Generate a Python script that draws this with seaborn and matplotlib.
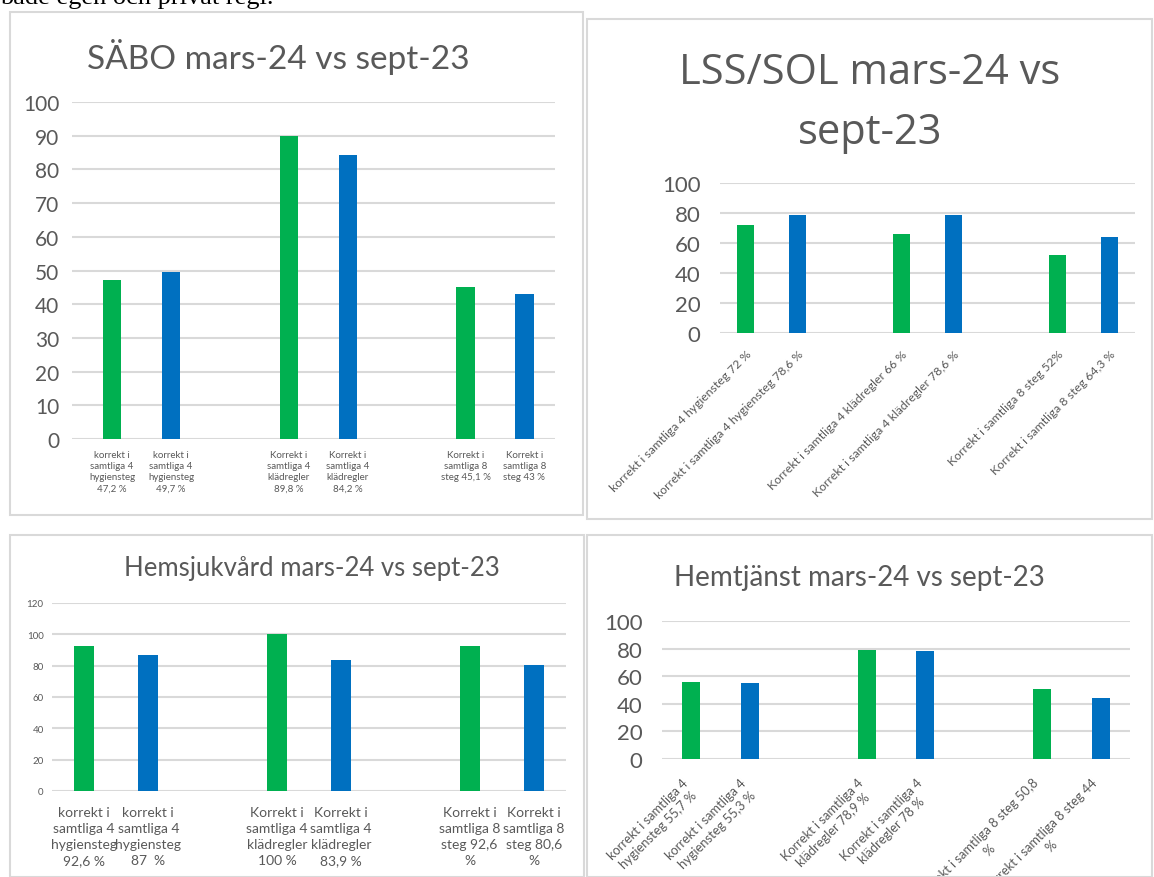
import matplotlib
matplotlib.use("Agg")
import matplotlib.pyplot as plt
from matplotlib.patches import Rectangle
import seaborn as sns

# --- data -------------------------------------------------------------
series = ["mars-24", "sept-23", "mars-24", "sept-23", "mars-24", "sept-23"]
slots = [0, 1, 3, 4, 6, 7]          # empty slot between each pair

sabo_vals = [47.2, 49.7, 89.8, 84.2, 45.1, 43]
sabo_labels = ["korrekt i\nsamtliga 4\nhygiensteg\n47,2 %",
               "korrekt i\nsamtliga 4\nhygiensteg\n49,7 %",
               "Korrekt i\nsamtliga 4\nklädregler\n89,8 %",
               "Korrekt i\nsamtliga 4\nklädregler\n84,2 %",
               "Korrekt i\nsamtliga 8\nsteg 45,1 %",
               "Korrekt i\nsamtliga 8\nsteg 43 %"]

lss_vals = [72, 78.6, 66, 78.6, 52, 64.3]
lss_labels = ["korrekt i samtliga 4 hygiensteg 72 %",
              "korrekt i samtliga 4 hygiensteg 78,6 %",
              "Korrekt i samtliga 4 klädregler 66 %",
              "Korrekt i samtliga 4 klädregler 78,6 %",
              "Korrekt i samtliga 8 steg 52%",
              "Korrekt i samtliga 8 steg 64,3 %"]

hsv_vals = [92.6, 87, 100, 83.9, 92.6, 80.6]
hsv_labels = ["korrekt i\nsamtliga 4\nhygiensteg\n92,6 %",
              "korrekt i\nsamtliga 4\nhygiensteg\n87  %",
              "Korrekt i\nsamtliga 4\nklädregler\n100 %",
              "Korrekt i\nsamtliga 4\nklädregler\n83,9 %",
              "Korrekt i\nsamtliga 8\nsteg 92,6\n%",
              "Korrekt i\nsamtliga 8\nsteg 80,6\n%"]

htj_vals = [55.7, 55.3, 78.9, 78, 50.8, 44]
htj_labels = ["korrekt i samtliga 4\nhygiensteg 55,7 %",
              "korrekt i samtliga 4\nhygiensteg 55,3 %",
              "Korrekt i samtliga 4\nklädregler 78,9 %",
              "Korrekt i samtliga 4\nklädregler 78 %",
              "Korrekt i samtliga 8 steg 50,8\n%",
              "Korrekt i samtliga 8 steg 44\n%"]

palette = {"mars-24": "#00B050", "sept-23": "#0070C0"}
GRID = "#D9D9D9"
TXT = "#595959"

sns.set_style("white")
plt.rcParams["font.family"] = ["Lato", "DejaVu Sans"]

W, H = 1154, 878
fig = plt.figure(figsize=(W / 100, H / 100), dpi=100)


def px_axes(x0, x1, ytop, ybot):
    return fig.add_axes([x0 / W, 1 - ybot / H, (x1 - x0) / W, (ybot - ytop) / H])


def frame(x0, y0, x1, y1):
    fig.patches.append(Rectangle((x0 / W, 1 - y1 / H), (x1 - x0) / W, (y1 - y0) / H,
                                 transform=fig.transFigure, fill=False,
                                 edgecolor="#D9D9D9", linewidth=1.5))


def bars(ax, vals, width, ymax, step, ysize, ypad, xlim=(-0.5, 7.5)):
    sns.barplot(x=slots, y=vals, hue=series, palette=palette, dodge=False,
                native_scale=True, width=width, legend=False, ax=ax,
                saturation=1, edgecolor="none")
    ax.set_xlim(*xlim)
    ax.set_ylim(0, ymax)
    ax.set_yticks(range(0, ymax + 1, step))
    ax.grid(axis="y", color=GRID, linewidth=1.5)
    ax.set_axisbelow(True)
    sns.despine(ax=ax, left=True, bottom=True)
    ax.tick_params(axis="y", length=0, labelsize=ysize, labelcolor=TXT, pad=ypad)
    ax.tick_params(axis="x", length=0)
    ax.set_xlabel("")
    ax.set_ylabel("")
    ax.set_xticks(slots)


# page text cut at the top
fig.text(0.0, 1 - 4 / H, "både egen och privat regi.", fontsize=19,
         family=["Liberation Serif"], color="black", va="baseline")

frame(10, 13, 583, 516)
frame(587, 20, 1152, 520)
frame(10, 536, 584, 878)
frame(587, 536, 1152, 878)

# SÄBO
ax1 = px_axes(72, 555, 103, 440)
bars(ax1, sabo_vals, 0.31, 100, 10, 15, 9, xlim=(-0.68, 7.52))
ax1.set_xticklabels(sabo_labels, fontsize=7, color=TXT, linespacing=1.3)
ax1.tick_params(axis="x", pad=8)
fig.text(278 / W, 1 - 57 / H, "SÄBO mars-24 vs sept-23", fontsize=24,
         color=TXT, ha="center", va="center")

# LSS/SOL
ax2 = px_axes(720, 1135, 184, 334)
bars(ax2, lss_vals, 0.33, 100, 20, 16, 14)
ax2.set_xticklabels(lss_labels, fontsize=8.8, color=TXT, rotation=45,
                    ha="right", rotation_mode="anchor")
ax2.tick_params(axis="x", pad=11)
fig.text(870 / W, 1 - 103 / H, "LSS/SOL mars-24 vs\nsept-23", fontsize=30,
         color=TXT, ha="center", va="center", linespacing=1.55,
         family=["Open Sans", "DejaVu Sans"])

# Hemsjukvård
ax3 = px_axes(52, 566, 604, 792)
bars(ax3, hsv_vals, 0.31, 120, 20, 7, 6)
ax3.set_xticklabels(hsv_labels, fontsize=10, color=TXT, linespacing=1.4)
ax3.tick_params(axis="x", pad=11)
fig.text(312 / W, 1 - 569 / H, "Hemsjukvård mars-24 vs sept-23", fontsize=18.5,
         color=TXT, ha="center", va="center")

# Hemtjänst
ax4 = px_axes(662, 1130, 622, 760)
bars(ax4, htj_vals, 0.31, 100, 20, 16, 14)
ax4.set_xticklabels(htj_labels, fontsize=9.3, color=TXT, rotation=45,
                    ha="right", va="center", rotation_mode="anchor",
                    multialignment="center", linespacing=1.3)
ax4.tick_params(axis="x", pad=19)
fig.text(859 / W, 1 - 578 / H, "Hemtjänst mars-24 vs sept-23", fontsize=20,
         color=TXT, ha="center", va="center")

fig.savefig("out.png", dpi=100)
